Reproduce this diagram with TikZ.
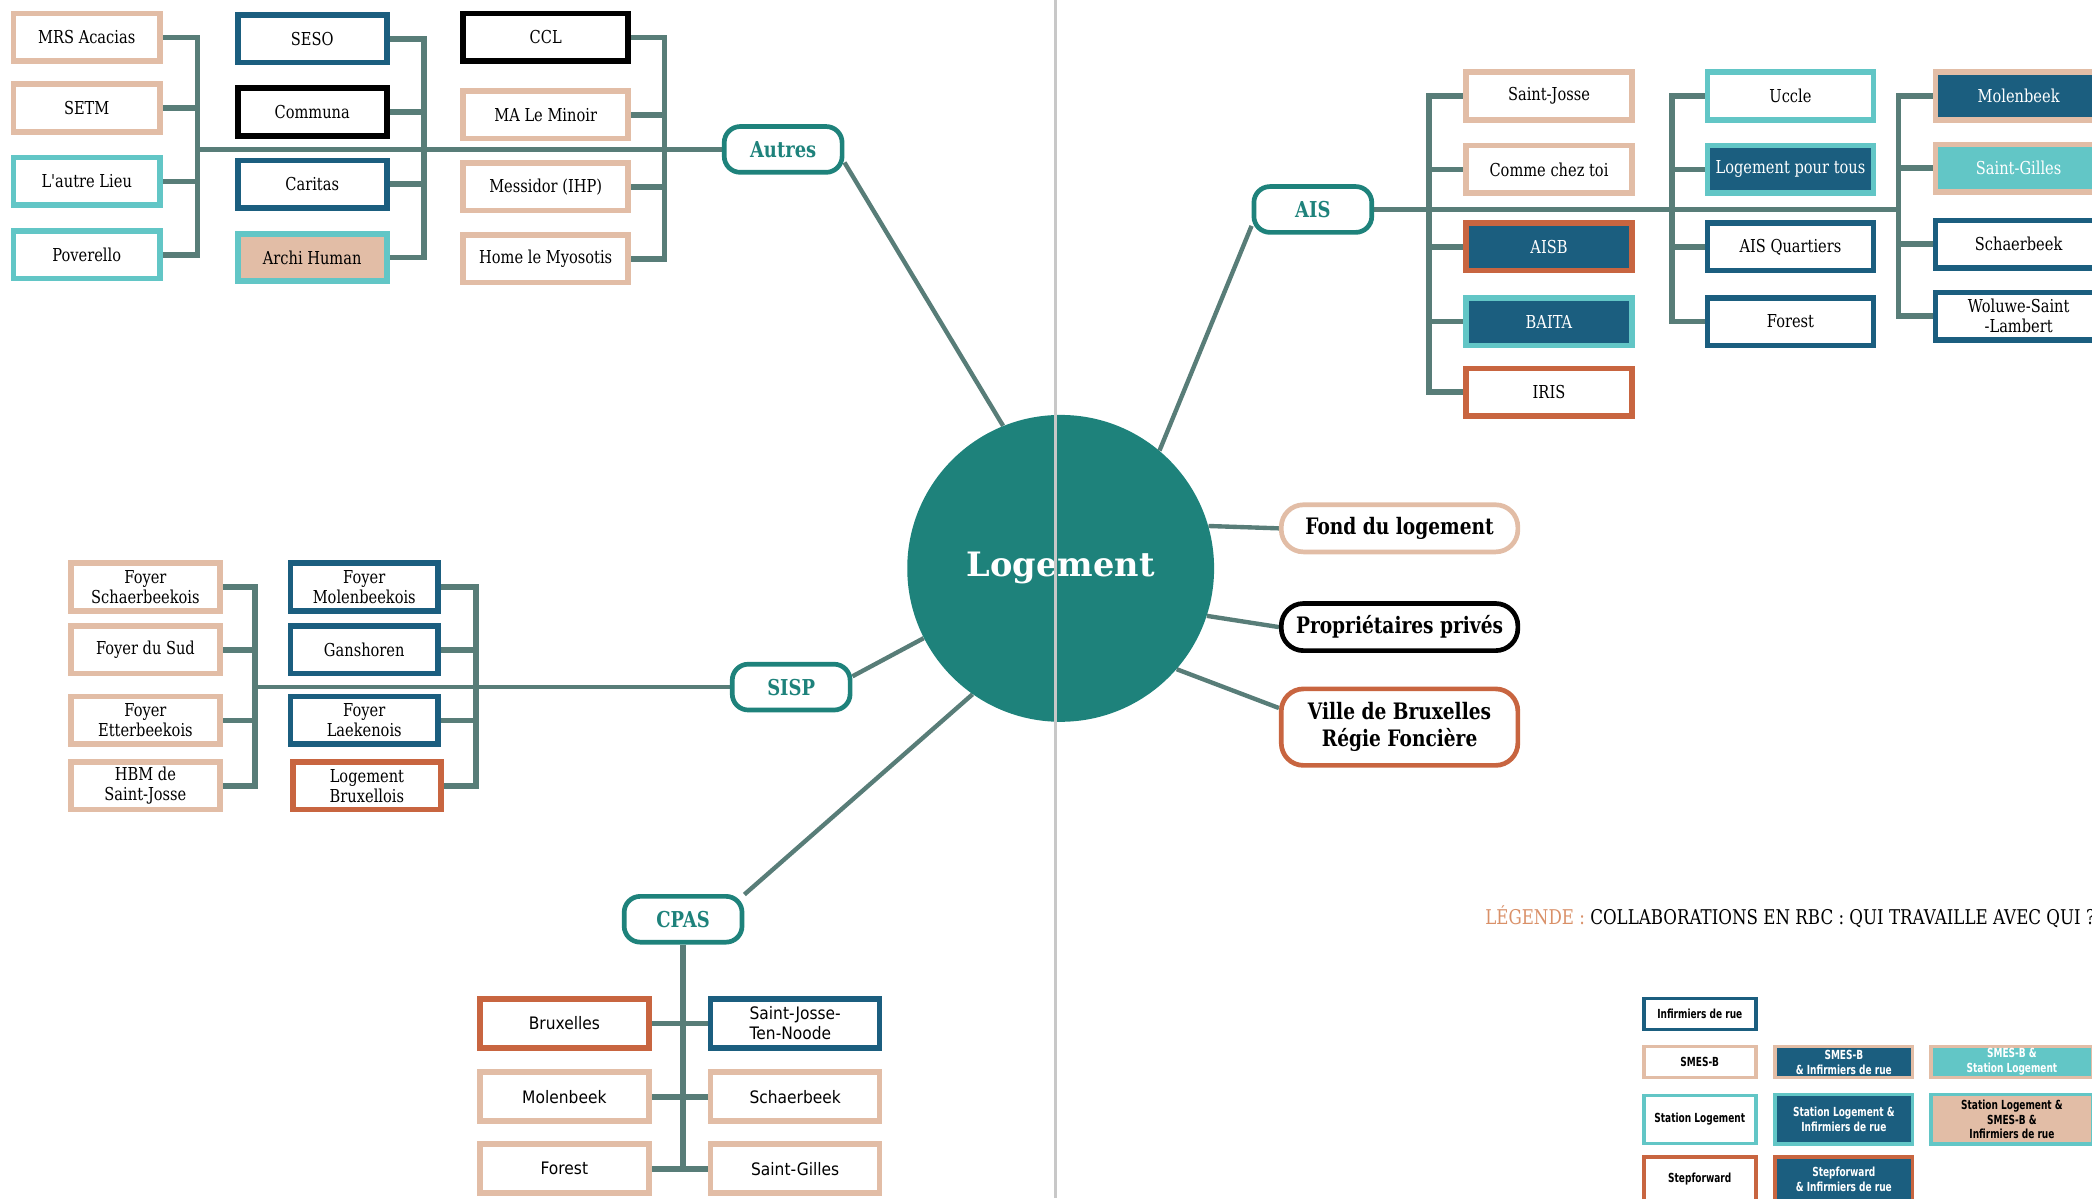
\documentclass[tikz,border=0pt]{standalone}
\usepackage{fontspec}
\setmainfont{DejaVu Serif}
\newfontfamily\slab{DejaVu Serif}[FakeStretch=0.82]
\newfontfamily\plainsans{DejaVu Sans}[FakeStretch=0.9]
\newfontfamily\narrowsans{DejaVu Sans}[FakeStretch=0.72]
\usetikzlibrary{backgrounds}

\definecolor{circteal}{RGB}{30,130,123}
\definecolor{linkgray}{RGB}{88,125,120}
\definecolor{peach}{RGB}{226,189,166}
\definecolor{aqua}{RGB}{98,198,198}
\definecolor{navy}{RGB}{27,94,127}
\definecolor{rust}{RGB}{200,101,64}
\definecolor{legendorange}{RGB}{217,144,104}
\definecolor{divider}{RGB}{200,200,200}

\tikzset{
  cell/.style={draw, line width=3.6pt, fill=white, align=center, inner sep=1pt,
    minimum height=10.7mm, font=\slab\fontsize{11.4}{12.8}\selectfont},
  peachbox/.style={cell, draw=peach},
  aquabox/.style={cell, draw=aqua},
  navybox/.style={cell, draw=navy},
  blackbox/.style={cell, draw=black},
  rustbox/.style={cell, draw=rust},
  onnavy/.style={fill=navy, text=white},
  onaqua/.style={fill=aqua, text=white},
  onpeach/.style={fill=peach},
  hub/.style={draw=circteal, line width=3pt, rounded corners=3.6mm, fill=white,
    minimum width=26.5mm, minimum height=10.3mm, text=circteal,
    font=\slab\fontsize{14}{16}\selectfont\bfseries},
  partner/.style={draw, line width=3pt, rounded corners=5mm, fill=white,
    minimum width=53.2mm, minimum height=10.6mm, align=center,
    font=\slab\fontsize{14.5}{17}\selectfont\bfseries},
  trunk/.style={draw=linkgray, line width=2.8pt},
  bar/.style={draw=linkgray, line width=3.6pt},
  legendbox/.style={draw, line width=2.4pt, fill=white, align=center, inner sep=1pt,
    minimum height=6.95mm, font=\narrowsans\bfseries\fontsize{8}{9.5}\selectfont},
}

\begin{document}
\begin{tikzpicture}[x=0.3mm, y=-0.3mm]
\useasboundingbox (0,0) rectangle (1568,898);
\clip (0,0) rectangle (1568,898);

% centre
\node[circle, fill=circteal, minimum size=69mm, text=white,
  font=\fontsize{21.5}{24}\selectfont\bfseries] (logement) at (795,426) {Logement};

% Autres
\node[hub] (autres) at (587,112) {Autres};
\node[peachbox, minimum width=32.9mm] (mrs) at (65,28) {MRS Acacias};
\node[peachbox, minimum width=32.9mm] (setm) at (65,81) {SETM};
\node[aquabox, minimum width=32.9mm] (lieu) at (65,136) {L'autre Lieu};
\node[aquabox, minimum width=32.9mm] (poverello) at (65,191) {Poverello};
\node[navybox, minimum width=33.5mm] (seso) at (234,29) {SESO};
\node[blackbox, minimum width=33.5mm] (communa) at (234,84) {Communa};
\node[navybox, minimum width=33.5mm] (caritas) at (234,138) {Caritas};
\node[aquabox, onpeach, minimum width=33.5mm] (archi) at (234,193) {Archi Human};
\node[blackbox, minimum width=37.1mm] (ccl) at (409,28) {CCL};
\node[peachbox, minimum width=37.1mm] (minoir) at (409,86) {MA Le Minoir};
\node[peachbox, minimum width=37.1mm] (messidor) at (409,140) {Messidor (IHP)};
\node[peachbox, minimum width=37.1mm] (myosotis) at (409,194) {Home le Myosotis};
\coordinate (ja1) at (148,112);
\coordinate (ja2) at (318,112);
\coordinate (ja3) at (498,112);

% AIS
\node[hub] (ais) at (984,157) {AIS};
\node[peachbox, minimum width=37.4mm] (sjosse) at (1161,72) {Saint-Josse};
\node[peachbox, minimum width=37.4mm] (chez) at (1161,127) {Comme chez toi};
\node[rustbox, onnavy, minimum width=37.4mm] (aisb) at (1161,185) {AISB};
\node[aquabox, onnavy, minimum width=37.4mm] (baita) at (1161,241) {BAITA};
\node[rustbox, minimum width=37.4mm] (iris) at (1161,294) {IRIS};
\node[aquabox, minimum width=37.4mm] (uccle) at (1342,72) {Uccle};
\node[aquabox, onnavy, minimum width=37.4mm] (lpt) at (1342,127) {Logement pour tous};
\node[navybox, minimum width=37.4mm] (aisq) at (1342,185) {AIS Quartiers};
\node[navybox, minimum width=37.4mm] (forestais) at (1342,241) {Forest};
\node[peachbox, onnavy, minimum width=37.4mm] (molais) at (1513,72) {Molenbeek};
\node[peachbox, onaqua, minimum width=37.4mm] (sgais) at (1513,126) {Saint-Gilles};
\node[navybox, minimum width=37.4mm] (schais) at (1513,183) {Schaerbeek};
\node[navybox, minimum width=37.4mm] (wsl) at (1513,237) {Woluwe-Saint\\-Lambert};
\coordinate (ji1) at (1071,157);
\coordinate (ji2) at (1253,157);
\coordinate (ji3) at (1423,157);

% partenaires
\node[partner, draw=peach] (fond) at (1049,396) {Fond du logement};
\node[partner, draw=black] (prives) at (1049,470) {Propriétaires privés};
\node[partner, draw=rust, minimum height=17.2mm] (ville) at (1049,545) {Ville de Bruxelles\\Régie Foncière};

% SISP
\node[hub] (sisp) at (593,515) {SISP};
\node[peachbox, minimum width=33.5mm] (fsch) at (109,440) {Foyer\\Schaerbeekois};
\node[peachbox, minimum width=33.5mm] (fsud) at (109,487) {Foyer du Sud};
\node[peachbox, minimum width=33.5mm] (fett) at (109,540) {Foyer\\Etterbeekois};
\node[peachbox, minimum width=33.5mm] (hbm) at (109,589) {HBM de\\Saint-Josse};
\node[navybox, minimum width=33.2mm] (fmol) at (273,440) {Foyer\\Molenbeekois};
\node[navybox, minimum width=33.2mm] (gans) at (273,487) {Ganshoren};
\node[navybox, minimum width=33.2mm] (flaek) at (273,540) {Foyer\\Laekenois};
\node[rustbox, minimum width=33.2mm] (lbx) at (275,589) {Logement\\Bruxellois};
\coordinate (js1) at (191,515);
\coordinate (js2) at (357,515);

% CPAS
\node[hub] (cpas) at (512,689) {CPAS};
\tikzset{cpasbox/.style={minimum width=38mm, minimum height=11mm,
  font=\plainsans\fontsize{11}{12.5}\selectfont}}
\node[rustbox, cpasbox] (bxl) at (423,767) {Bruxelles};
\node[peachbox, cpasbox] (molcpas) at (423,822) {Molenbeek};
\node[peachbox, cpasbox] (forcpas) at (423,876) {Forest};
\node[navybox, cpasbox, align=left] (sjtn) at (596,767) {Saint-Josse-\\Ten-Noode};
\node[peachbox, cpasbox] (schcpas) at (596,822) {Schaerbeek};
\node[peachbox, cpasbox] (sgcpas) at (596,876) {Saint-Gilles};

% legende
\node[anchor=west, inner sep=0pt, font=\slab\fontsize{13}{14}\selectfont] (legende) at (1113,687)
  {\textcolor{legendorange}{LÉGENDE :} COLLABORATIONS EN RBC : QUI TRAVAILLE AVEC QUI ?};
\node[legendbox, draw=navy, minimum width=25.2mm] (kinf) at (1274,760) {Infirmiers de rue};
\node[legendbox, draw=peach, minimum width=25.2mm] (ksmes) at (1274,796) {SMES-B};
\node[legendbox, draw=peach, onnavy, minimum width=30.9mm] (ksmesinf) at (1382,796) {SMES-B\\\& Infirmiers de rue};
\node[legendbox, draw=peach, onaqua, minimum width=36.4mm] (ksmessta) at (1508,796) {SMES-B \&\\Station Logement};
\node[legendbox, draw=aqua, minimum width=25.2mm, minimum height=10.8mm] (ksta) at (1274,839) {Station Logement};
\node[legendbox, draw=aqua, onnavy, minimum width=30.9mm, minimum height=11.2mm] (kstainf) at (1382,839) {Station Logement \&\\Infirmiers de rue};
\node[legendbox, draw=aqua, onpeach, minimum width=36.4mm, minimum height=11.2mm] (kall) at (1508,839) {Station Logement \&\\SMES-B \&\\Infirmiers de rue};
\node[legendbox, draw=rust, minimum width=25.2mm, minimum height=10mm] (kstep) at (1274,884) {Stepforward};
\node[legendbox, draw=rust, onnavy, minimum width=30.9mm, minimum height=10mm] (kstepinf) at (1382,884) {Stepforward\\\& Infirmiers de rue};

\begin{scope}[on background layer]
% rayons
\draw[trunk] (logement.112) -- (autres.-12);
\draw[trunk] (logement.50) -- (ais.195);
\draw[trunk] (logement.16) -- (fond.west);
\draw[trunk] (logement.-18) -- (prives.west);
\draw[trunk] (logement.-41) -- (ville.171);
\draw[trunk] (logement.207) -- (sisp.10);
\draw[trunk] (logement.235) -- (cpas.22);

% Autres
\draw[trunk] (ja1) -- (autres.west);
\foreach \b in {mrs,setm,lieu,poverello} \draw[bar] (\b.east) -| (ja1);
\foreach \b in {seso,communa,caritas,archi} \draw[bar] (\b.east) -| (ja2);
\foreach \b in {ccl,minoir,messidor,myosotis} \draw[bar] (\b.east) -| (ja3);

% AIS
\draw[trunk] (ais.east) -- (ji3);
\foreach \b in {sjosse,chez,aisb,baita,iris} \draw[bar] (\b.west) -| (ji1);
\foreach \b in {uccle,lpt,aisq,forestais} \draw[bar] (\b.west) -| (ji2);
\foreach \b in {molais,sgais,schais,wsl} \draw[bar] (\b.west) -| (ji3);

% SISP
\draw[trunk] (js1) -- (sisp.west);
\foreach \b in {fsch,fsud,fett,hbm} \draw[bar] (\b.east) -| (js1);
\foreach \b in {fmol,gans,flaek,lbx} \draw[bar] (\b.east) -| (js2);

% CPAS
\coordinate (jc) at (512,876);
\draw[bar] (cpas.south) -- (jc);
\draw[bar] (bxl.east) -- (sjtn.west);
\draw[bar] (molcpas.east) -- (schcpas.west);
\draw[bar] (forcpas.east) -- (sgcpas.west);
\end{scope}

\draw[divider, line width=1.6pt] (791,0) -- (791,898);
\end{tikzpicture}
\end{document}
